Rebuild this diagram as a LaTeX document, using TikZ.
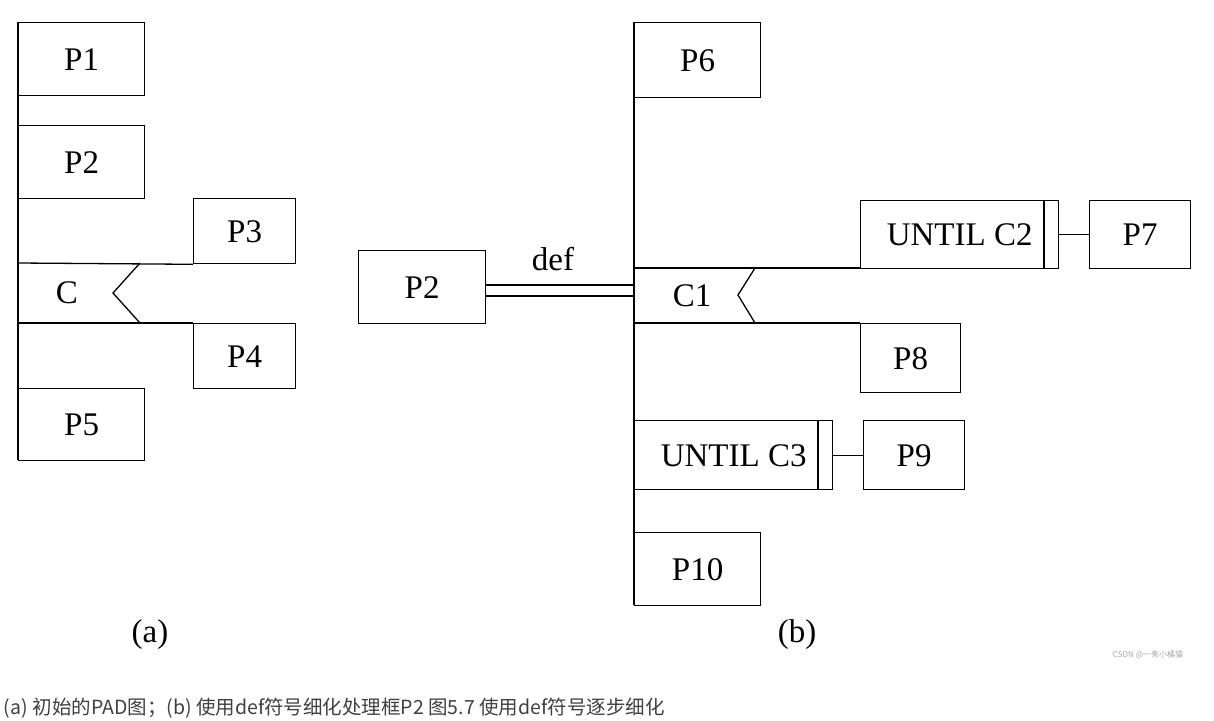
\documentclass[tikz,border=0pt]{standalone}
\usepackage{fontspec}
\setmainfont{Liberation Serif}
\newfontfamily\cjk{Noto Sans CJK SC}
\begin{document}
\begin{tikzpicture}[x=1pt,y=-1pt,line width=1.3pt,
  box/.style={draw,rectangle,anchor=north west,inner sep=0pt,text depth=0pt,font=\fontsize{33}{33}\selectfont},
  lbl/.style={font=\fontsize{33}{33}\selectfont}]
\useasboundingbox[fill=white] (0,0) rectangle (1214,720);
% (a)
\draw (18,22) -- (18,460);
\node[box,minimum width=126pt,minimum height=73pt] (p1) at (18,22) {P1};
\node[box,minimum width=126pt,minimum height=73pt] (p2) at (18,125) {P2};
\node[box,minimum width=102pt,minimum height=65pt] (p3) at (193,198) {P3};
\node[box,minimum width=102pt,minimum height=65pt] (p4) at (193,323) {P4};
\node[box,minimum width=126pt,minimum height=72pt] (p5) at (18,388) {P5};
\draw (18,263) -- (p3.south west);
\draw (18,323) -- (p4.north west);
\draw (140,263) -- (113,293) -- (140,323);
\node[lbl] (c) at (67,293) {C};
\node[lbl] (la) at (150,635) {(a)};
% (b)
\draw (634,22) -- (634,605);
\node[box,minimum width=127pt,minimum height=73pt] (q2) at (358,250) {P2};
\draw (485,285) -- (634,285);
\draw (485,296) -- (634,296);
\node[lbl] (def) at (553,259) {def};
\node[box,minimum width=126pt,minimum height=75pt] (p6) at (634,22) {P6};
\draw (634,268) -- (860,268);
\node[box,minimum width=198pt,minimum height=68pt] (u2) at (860,200) {UNTIL C2\hspace{18pt}};
\draw (1044,200) -- (1044,268);
\node[box,minimum width=101pt,minimum height=68pt] (p7) at (1089,200) {P7};
\draw (u2.east) -- (p7.west);
\node[box,minimum width=100pt,minimum height=69pt] (p8) at (860,323) {P8};
\draw (634,323) -- (p8.north west);
\draw (755,268) -- (738,295) -- (755,323);
\node[lbl] (c1) at (692,296) {C1};
\node[box,minimum width=198pt,minimum height=69pt] (u3) at (634,420) {UNTIL C3\hspace{18pt}};
\draw (818,420) -- (818,489);
\node[box,minimum width=101pt,minimum height=69pt] (p9) at (863,420) {P9};
\draw (u3.east) -- (p9.west);
\node[box,minimum width=126pt,minimum height=73pt] (p10) at (634,532) {P10};
\node[lbl] (lb) at (797,635) {(b)};
\node[font=\cjk\fontsize{8}{8}\selectfont,text=gray!70] (wm) at (1148,655) {CSDN @一条小橘猫};
\node[anchor=west,font=\cjk\fontsize{19.5}{20}\selectfont,text=black!75] (cap) at (0,708) {(a) 初始的PAD图；(b) 使用def符号细化处理框P2 图5.7 使用def符号逐步细化};
\end{tikzpicture}
\end{document}
